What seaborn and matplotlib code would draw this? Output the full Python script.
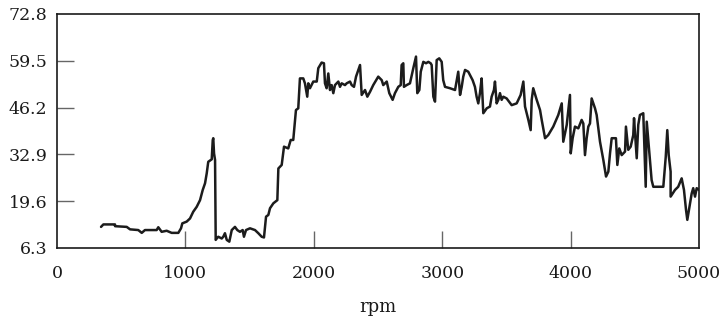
import numpy as np
import pandas as pd
import matplotlib
matplotlib.use('Agg')
import matplotlib.pyplot as plt
import seaborn as sns

rpm = [
    343, 361, 452, 452, 543, 569, 633, 660, 685, 776, 789, 815, 854, 893, 945,
    966, 976, 1010, 1036, 1061, 1088, 1114, 1135, 1153, 1166, 1178, 1205, 1213,
    1217, 1223, 1231, 1236, 1244, 1256, 1283, 1295, 1308, 1322, 1342, 1361,
    1386, 1404, 1425, 1446, 1456, 1472, 1503, 1542, 1568, 1594, 1612, 1620,
    1628, 1646, 1659, 1685, 1716, 1724, 1750, 1768, 1801, 1820, 1840, 1861,
    1879, 1892, 1918, 1931, 1949, 1957, 1970, 1996, 2023, 2035, 2061, 2079,
    2087, 2100, 2113, 2126, 2139, 2152, 2165, 2191, 2204, 2217, 2243, 2256,
    2282, 2295, 2313, 2329, 2347, 2360, 2373, 2399, 2417, 2438, 2463, 2502,
    2529, 2541, 2568, 2588, 2614, 2632, 2658, 2677, 2684, 2697, 2702, 2723,
    2749, 2775, 2796, 2806, 2822, 2833, 2853, 2874, 2892, 2910, 2918, 2931,
    2944, 2957, 2977, 2996, 3008, 3022, 3061, 3100, 3113, 3125, 3139, 3152,
    3164, 3178, 3203, 3216, 3237, 3255, 3268, 3281, 3294, 3307, 3320, 3347,
    3372, 3385, 3403, 3411, 3424, 3437, 3450, 3463, 3476, 3502, 3541, 3580,
    3611, 3632, 3645, 3671, 3689, 3697, 3709, 3736, 3762, 3775, 3801, 3826,
    3865, 3904, 3931, 3943, 3970, 3995, 4001, 4016, 4034, 4060, 4086, 4099,
    4112, 4125, 4138, 4151, 4164, 4190, 4203, 4229, 4255, 4276, 4294, 4307,
    4320, 4353, 4364, 4379, 4398, 4424, 4431, 4449, 4468, 4488, 4494, 4515,
    4527, 4540, 4566, 4585, 4593, 4605, 4631, 4644, 4683, 4722, 4741, 4753,
    4764, 4779, 4779, 4813, 4838, 4865, 4883, 4899, 4909, 4924, 4943, 4955,
    4969, 4982, 5000,
]
value = [
    12.3, 13.0, 13.0, 12.5, 12.3, 11.6, 11.4, 10.6, 11.4, 11.4, 12.2, 10.9,
    11.2, 10.6, 10.6, 11.9, 13.3, 13.8, 14.7, 16.6, 18.0, 19.9, 22.8, 24.7,
    27.5, 30.8, 31.5, 37.0, 37.5, 33.2, 31.3, 8.6, 9.0, 9.5, 9.0, 9.5, 10.5,
    8.6, 8.1, 11.4, 12.3, 11.4, 10.9, 11.4, 9.5, 11.4, 11.9, 11.4, 10.5, 9.5,
    9.3, 12.3, 15.2, 15.7, 17.6, 19.0, 19.9, 28.9, 29.9, 35.1, 34.6, 37.0,
    37.0, 45.5, 46.0, 54.5, 54.5, 53.1, 49.3, 53.1, 51.7, 53.6, 53.6, 57.4,
    59.0, 58.8, 53.1, 51.7, 55.9, 51.2, 52.6, 50.3, 52.6, 53.6, 52.1, 53.1,
    52.6, 53.1, 53.6, 52.6, 52.1, 55.0, 56.9, 58.3, 49.8, 51.2, 49.3, 50.7,
    52.6, 55.0, 54.0, 52.6, 53.6, 50.3, 48.4, 50.3, 52.1, 52.6, 58.3, 58.8,
    52.1, 52.6, 53.1, 57.4, 60.7, 50.3, 51.2, 56.4, 59.2, 58.8, 59.2, 58.8,
    58.3, 49.3, 47.9, 59.7, 60.2, 59.2, 54.0, 52.1, 51.7, 51.2, 54.0, 56.4,
    49.8, 52.1, 55.0, 56.9, 56.4, 55.5, 54.0, 52.1, 49.3, 47.4, 50.3, 54.5,
    44.6, 46.0, 46.5, 49.3, 51.2, 53.6, 47.4, 48.4, 50.3, 48.4, 49.3, 48.8,
    46.9, 47.4, 49.8, 53.6, 46.5, 42.7, 39.8, 48.4, 51.7, 48.4, 45.5, 42.7,
    37.5, 38.4, 40.8, 44.1, 47.4, 36.5, 41.3, 49.8, 33.2, 37.5, 40.8, 40.3,
    42.7, 41.7, 32.7, 37.5, 40.8, 41.7, 48.8, 46.0, 44.1, 36.5, 31.3, 26.6,
    28.0, 33.2, 37.5, 37.5, 29.9, 34.6, 32.7, 33.7, 40.8, 34.2, 35.1, 38.4,
    43.2, 31.8, 41.3, 44.1, 44.6, 23.7, 42.2, 37.0, 25.6, 23.7, 23.7, 23.7,
    32.2, 39.8, 32.7, 28.0, 20.9, 22.8, 23.7, 26.1, 22.8, 17.1, 14.3, 17.6,
    21.8, 23.3, 20.9, 23.3, 22.8,
]

x_ticks = [0, 1000, 2000, 3000, 4000, 5000]
y_ticks = [6.3, 19.6, 32.9, 46.2, 59.5, 72.8]
y_tick_labels = ['6.3', '19.6', '32.9', '46.2', '59.5', '72.8']

df = pd.DataFrame({'rpm': rpm, 'value': value})

sns.set_style("ticks")
plt.rcParams['font.family'] = ['DejaVu Serif']

fig = plt.figure(figsize=(7.25, 3.21), dpi=100)
ax = fig.add_axes([57 / 725, 1 - 248 / 321, 642 / 725, 234 / 321])

sns.lineplot(data=df, x='rpm', y='value', sort=False, estimator=None,
             color='#1c1c1c', linewidth=1.8, ax=ax)

ax.set_xlim(0, 5000)
ax.set_ylim(6.3, 72.8)
ax.set_xticks(x_ticks)
ax.set_yticks(y_ticks)
ax.set_yticklabels(y_tick_labels)
ax.tick_params(direction='in', length=12, width=1, color='#666666',
               labelsize=12.5, labelcolor='#1a1a1a')
ax.tick_params(axis='y', pad=7)
ax.tick_params(axis='x', pad=12)
ax.set_xlabel('rpm', fontsize=13, labelpad=12, color='#1a1a1a')
ax.set_ylabel('')

# the end ticks sit on the frame in the original, so hide their marks
for ticks in (ax.xaxis.get_major_ticks(), ax.yaxis.get_major_ticks()):
    for t in (ticks[0], ticks[-1]):
        t.tick1line.set_visible(False)

for side in ['left', 'right', 'top', 'bottom']:
    ax.spines[side].set_visible(True)
    ax.spines[side].set_linewidth(1.2)
    ax.spines[side].set_color('#1a1a1a')

plt.savefig('out.png', dpi=100)
plt.close()
